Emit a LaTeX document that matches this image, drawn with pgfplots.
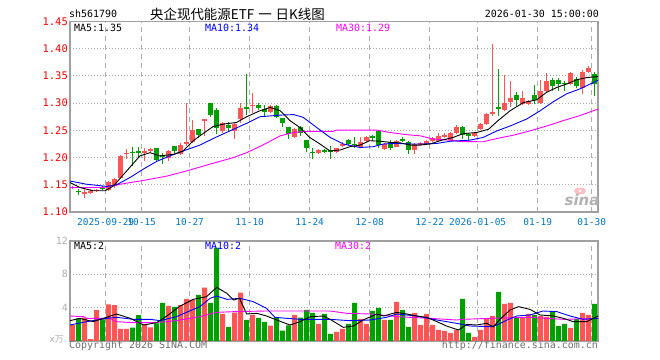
\documentclass[border=0pt]{standalone}
\usepackage{fontspec}
\setmainfont{DejaVu Sans}
\setmonofont{DejaVu Sans Mono}
\newfontfamily\cjk{Noto Sans CJK SC}
\usepackage{pgfplots}
\pgfplotsset{compat=1.18}
\usepackage{pgfplotstable}
\definecolor{upred}{RGB}{255,85,85}
\definecolor{dngreen}{RGB}{0,160,0}
\definecolor{framec}{RGB}{160,160,160}
\definecolor{gridc}{RGB}{175,175,175}
\definecolor{tickblue}{RGB}{0,120,200}
\definecolor{maten}{RGB}{0,0,255}
\definecolor{mathirty}{RGB}{255,0,255}
\definecolor{txtgray}{RGB}{110,110,110}
\newcommand\monoA{\ttfamily\fontsize{10}{12}\selectfont}
\newcommand\monoB{\ttfamily\fontsize{9.5}{11}\selectfont}

\pgfplotstableread{
i O H L C V
0 1.145 1.148 1.143 1.146 1.90
2 1.135 1.143 1.126 1.136 2.80
3 1.137 1.142 1.133 1.138 0.24
4 1.139 1.143 1.137 1.141 3.70
6 1.141 1.157 1.139 1.155 4.40
7 1.147 1.162 1.145 1.160 4.30
8 1.162 1.205 1.160 1.203 1.44
9 1.207 1.215 1.198 1.208 1.44
12 1.208 1.218 1.193 1.212 2.00
13 1.213 1.218 1.211 1.216 1.64
16 1.200 1.213 1.193 1.212 4.20
18 1.207 1.226 1.205 1.223 4.30
19 1.226 1.301 1.222 1.229 5.04
20 1.229 1.269 1.227 1.251 4.92
22 1.267 1.271 1.240 1.270 6.40
25 1.248 1.266 1.246 1.264 3.24
27 1.248 1.264 1.234 1.262 3.40
28 1.271 1.301 1.263 1.291 5.80
30 1.296 1.318 1.282 1.297 3.12
33 1.284 1.297 1.282 1.294 1.84
37 1.238 1.254 1.236 1.252 3.12
41 1.209 1.216 1.207 1.214 2.04
44 1.210 1.218 1.209 1.217 1.08
45 1.223 1.228 1.220 1.225 1.44
48 1.220 1.238 1.218 1.228 2.64
49 1.231 1.240 1.229 1.237 2.04
52 1.216 1.227 1.214 1.225 2.52
54 1.220 1.232 1.219 1.231 4.68
57 1.214 1.227 1.207 1.225 3.36
58 1.224 1.228 1.221 1.226 1.92
59 1.225 1.232 1.224 1.231 3.24
60 1.230 1.238 1.229 1.236 1.92
61 1.231 1.245 1.229 1.240 1.32
62 1.240 1.245 1.236 1.241 1.20
63 1.233 1.247 1.231 1.245 0.96
64 1.246 1.259 1.244 1.257 1.32
67 1.240 1.247 1.238 1.246 0.48
68 1.252 1.263 1.250 1.261 1.32
69 1.262 1.281 1.259 1.280 2.64
70 1.281 1.408 1.277 1.283 3.00
72 1.288 1.352 1.286 1.300 4.44
73 1.302 1.341 1.292 1.309 4.56
75 1.299 1.322 1.297 1.309 2.88
76 1.299 1.306 1.296 1.304 3.24
78 1.301 1.343 1.298 1.322 3.00
79 1.323 1.355 1.321 1.341 2.90
83 1.335 1.358 1.333 1.356 1.56
85 1.327 1.360 1.317 1.358 3.36
86 1.358 1.369 1.356 1.365 3.12
}\uptable

\pgfplotstableread{
i O H L C V
1 1.139 1.142 1.131 1.138 2.70
5 1.145 1.147 1.141 1.143 2.60
10 1.210 1.219 1.185 1.209 1.60
11 1.212 1.220 1.200 1.208 3.10
14 1.217 1.218 1.193 1.195 2.10
15 1.204 1.209 1.188 1.203 4.56
17 1.221 1.222 1.208 1.212 4.08
21 1.252 1.253 1.236 1.242 5.52
23 1.300 1.301 1.274 1.279 4.56
24 1.288 1.291 1.244 1.254 11.20
26 1.259 1.265 1.247 1.254 1.68
29 1.292 1.353 1.279 1.291 2.52
31 1.297 1.300 1.287 1.291 2.76
32 1.289 1.297 1.277 1.284 2.28
34 1.294 1.296 1.272 1.274 2.84
35 1.272 1.273 1.257 1.263 1.24
36 1.256 1.257 1.235 1.244 1.88
38 1.256 1.258 1.240 1.245 2.80
39 1.232 1.233 1.211 1.218 3.72
40 1.210 1.218 1.198 1.209 3.36
42 1.213 1.216 1.208 1.212 3.24
43 1.213 1.222 1.198 1.212 0.84
46 1.233 1.235 1.222 1.225 2.04
47 1.225 1.238 1.217 1.224 4.56
50 1.240 1.241 1.231 1.236 3.60
51 1.248 1.251 1.218 1.224 3.96
53 1.228 1.232 1.214 1.218 2.52
55 1.233 1.237 1.229 1.232 3.72
56 1.228 1.230 1.207 1.214 1.68
65 1.257 1.258 1.234 1.241 5.04
66 1.242 1.246 1.231 1.241 0.96
71 1.292 1.363 1.276 1.290 5.88
74 1.315 1.321 1.295 1.305 2.76
77 1.315 1.333 1.298 1.305 3.12
80 1.342 1.346 1.323 1.331 3.56
81 1.342 1.346 1.323 1.336 1.80
82 1.337 1.340 1.323 1.336 2.04
84 1.344 1.348 1.327 1.332 2.64
87 1.353 1.357 1.314 1.335 4.44
}\dntable

\pgfplotsset{
  panel/.style={
    scale only axis, width=528bp,
    xmin=-0.45, xmax=87.55,
    axis line style={draw=framec, line width=1.2bp},
    tick style={draw=none}, major tick length=0pt,
    xtick={5.5,11.5,19.5,29.5,39.5,49.5,59.5,67.5,77.5,86.5},
    xmajorgrids, ymajorgrids,
    x grid style={draw=gridc, line width=1bp, dash pattern=on 5bp off 4bp},
    y grid style={draw=gridc, line width=0.9bp, dash pattern=on 1bp off 2bp},
    yticklabel style={anchor=east, inner sep=0pt, xshift=-2bp},
  },
  wick/.style={draw=none, mark=none, forget plot,
    error bars/.cd, y dir=both, y explicit, error mark=none,
    error bar style={draw=#1, line width=1bp, solid}},
  body/.style={draw=none, mark=none, forget plot,
    error bars/.cd, y dir=both, y explicit, error mark=none,
    error bar style={draw=#1, line width=5bp, solid}},
}

\begin{document}
\begin{tikzpicture}
\useasboundingbox (0,0) rectangle (660bp,360bp);

% ---------------- price panel ----------------
\begin{axis}[panel, at={(70bp,148bp)}, anchor=south west, height=190.5bp,
  ymin=1.10, ymax=1.45,
  ytick={1.10,1.15,1.20,1.25,1.30,1.35,1.40,1.45},
  yticklabels={1.10,1.15,1.20,1.25,1.30,1.35,1.40,1.45},
  yticklabel style={font=\ttfamily\fontsize{10.5}{12}\selectfont, text=red},
  xticklabels={2025-09-29,10-15,10-27,11-10,11-24,12-08,12-22,2026-01-05,01-19,01-30},
  xticklabel style={font=\monoB, text=tickblue, inner sep=0pt, anchor=north, yshift=-6.5bp},
]
\addplot[wick=upred] table[x=i, y expr={(\thisrow{H}+\thisrow{L})/2}, y error expr={(\thisrow{H}-\thisrow{L})/2}] {\uptable};
\addplot[body=upred] table[x=i, y expr={(\thisrow{O}+\thisrow{C})/2}, y error expr={max(abs(\thisrow{C}-\thisrow{O})/2,0.0009)}] {\uptable};
\addplot[wick=dngreen] table[x=i, y expr={(\thisrow{H}+\thisrow{L})/2}, y error expr={(\thisrow{H}-\thisrow{L})/2}] {\dntable};
\addplot[body=dngreen] table[x=i, y expr={(\thisrow{O}+\thisrow{C})/2}, y error expr={max(abs(\thisrow{C}-\thisrow{O})/2,0.0009)}] {\dntable};

% MA30
\addplot[mathirty, line width=0.9bp] coordinates {(-0.45,1.145) (5.1,1.145) (7.9,1.151) (11.8,1.158) (15.7,1.166) (19,1.1755) (22.9,1.188) (26.8,1.200) (29,1.209) (31.5,1.222) (34.6,1.240) (36.8,1.246) (38.4,1.248) (43.4,1.248) (44,1.2505) (50.7,1.2505) (52.9,1.246) (55.7,1.242) (57.9,1.240) (60.1,1.234) (62.9,1.232) (64.5,1.2296) (68.4,1.229) (70.7,1.235) (73.4,1.241) (76.2,1.249) (79,1.258) (81.8,1.268) (84.5,1.277) (87.55,1.289)};
% MA10
\addplot[maten, line width=0.9bp] coordinates {(-0.45,1.157) (2.3,1.151) (5.7,1.147) (7.3,1.150) (9.5,1.163) (11.8,1.179) (14,1.193) (16.2,1.203) (18.4,1.212) (21.2,1.223) (24,1.238) (26.2,1.249) (29,1.263) (31.2,1.275) (34.6,1.278) (36.8,1.279) (38.4,1.274) (40.7,1.255) (42.9,1.237) (45.1,1.225) (47.9,1.2185) (50.1,1.220) (51.8,1.225) (54,1.226) (56.2,1.225) (58.4,1.225) (60.7,1.226) (62.9,1.230) (66.2,1.232) (68.4,1.237) (70.7,1.249) (72.9,1.258) (75.7,1.271) (77.9,1.286) (80.1,1.3026) (82.3,1.317) (84.5,1.326) (87.55,1.342)};
% MA5
\addplot[black, line width=0.9bp] coordinates {(-0.45,1.154) (1.2,1.145) (3.4,1.139) (5.4,1.139) (6.8,1.148) (9,1.1755) (11.2,1.203) (12.9,1.209) (14.5,1.203) (16.8,1.206) (18.4,1.212) (20.1,1.231) (21.2,1.240) (23.4,1.257) (25.1,1.2615) (27.3,1.2645) (29,1.275) (31.2,1.286) (32.9,1.292) (34.6,1.286) (36.2,1.268) (37.9,1.255) (39.5,1.237) (41.2,1.225) (42.9,1.212) (44.6,1.214) (46.2,1.220) (47.9,1.223) (49.5,1.231) (51.2,1.230) (52.9,1.228) (54.6,1.227) (56.2,1.223) (57.9,1.223) (59.6,1.225) (61.2,1.231) (63.4,1.237) (65.1,1.244) (67.3,1.246) (69.3,1.252) (70.9,1.268) (72.9,1.286) (75.1,1.301) (77.3,1.306) (79,1.320) (80.7,1.329) (82.3,1.335) (84,1.343) (85.7,1.347) (87.55,1.349)};
\end{axis}

% ---------------- volume panel ----------------
\begin{axis}[panel, at={(70bp,19bp)}, anchor=south west, height=100bp,
  ymin=0, ymax=12,
  ytick={4,8,12}, yticklabels={4,8,12},
  yticklabel style={font=\monoA, text=gridc},
  xticklabels={},
]
\addplot[ybar, bar width=5bp, bar shift=0pt, fill=upred, draw=none] table[x=i, y=V] {\uptable};
\addplot[ybar, bar width=5bp, bar shift=0pt, fill=dngreen, draw=none] table[x=i, y=V] {\dntable};
% MA30
\addplot[mathirty, line width=0.9bp] coordinates {(-0.45,3.0) (1.8,2.92) (2.3,2.72) (6.2,2.72) (7.3,2.32) (10.1,2.2) (13.4,2.2) (15.7,2.32) (17.9,2.52) (21.2,2.92) (24,3.44) (26.8,3.52) (32.3,3.6) (42.9,3.6) (45.7,3.32) (49.6,3.24) (54,2.92) (59.6,2.72) (64,2.52) (65.1,2.6) (69.6,2.72) (76.2,2.84) (81.8,2.6) (87.55,2.72)};
% MA10
\addplot[maten, line width=0.9bp] coordinates {(-0.45,1.92) (2.3,2.32) (5.7,2.72) (7.3,2.84) (10.1,2.6) (12.9,2.6) (14.6,2.44) (17.3,2.92) (19.6,3.64) (21.2,4.12) (22.9,5.12) (24,5.4) (25.7,5.0) (27.9,5.12) (30.1,4.72) (32.3,3.92) (33.7,2.84) (35.7,2.72) (37.9,2.6) (40.7,2.6) (42.9,2.6) (46.2,2.44) (49.6,2.52) (52.3,2.84) (54,3.24) (57.3,3.0) (60.7,2.52) (64,2.12) (66.2,1.8) (69.6,1.72) (70.7,1.92) (72.4,2.52) (74,3.0) (76.2,3.12) (78.4,3.6) (80.7,3.52) (82.9,3.0) (85.1,2.6) (87.55,2.72)};
% MA5
\addplot[black, line width=0.9bp] coordinates {(-0.45,2.44) (1.2,2.72) (3.4,2.32) (4.6,2.6) (7.3,3.24) (9.6,2.72) (11.8,1.92) (14,2.2) (15.7,3.0) (17.9,4.2) (20.1,5.0) (22.3,5.32) (24,6.44) (25.7,5.72) (26.8,4.92) (27.8,5.12) (29,3.24) (30.7,3.32) (32.3,3.0) (34,2.52) (36.2,1.92) (37.9,2.32) (39.6,2.92) (41.8,3.0) (42.9,2.6) (44,2.12) (45.1,1.64) (46.8,1.8) (48.4,2.52) (50.7,3.24) (51.8,3.0) (54,3.44) (55.7,3.24) (57.3,3.0) (59,2.84) (60.7,2.32) (62.3,1.8) (64.3,1.32) (65.7,2.0) (67.3,1.92) (69,2.12) (70.1,1.68) (71.2,2.6) (72.9,3.72) (74.3,4.12) (76.2,3.8) (77.9,3.12) (80.1,3.0) (81.8,2.72) (83.4,2.32) (85.7,2.32) (87.55,3.0)};
\end{axis}

% ---------------- texts ----------------
\node[anchor=west, inner sep=0pt, font=\monoA] at (69bp,346bp) {sh561790};
\node[anchor=west, inner sep=0pt, font=\cjk\fontsize{13.5}{15}\selectfont] at (150bp,346bp) {央企现代能源ETF\hspace{4bp}一\hspace{4bp}日K线图};
\node[anchor=east, inner sep=0pt, font=\monoA] at (599bp,346bp) {2026-01-30 15:00:00};

\node[anchor=west, inner sep=0pt, font=\monoA, text=black] at (74bp,332bp) {MA5:1.35};
\node[anchor=west, inner sep=0pt, font=\monoA, text=maten] at (205bp,332bp) {MA10:1.34};
\node[anchor=west, inner sep=0pt, font=\monoA, text=mathirty] at (336bp,332bp) {MA30:1.29};

\node[anchor=west, inner sep=0pt, font=\monoA, text=black] at (74bp,114bp) {MA5:2};
\node[anchor=west, inner sep=0pt, font=\monoA, text=maten] at (205bp,114bp) {MA10:2};
\node[anchor=west, inner sep=0pt, font=\monoA, text=mathirty] at (335bp,114bp) {MA30:2};

\node[anchor=east, inner sep=0pt, font=\fontsize{9}{10}\selectfont, text=gridc] at (64bp,21bp) {x{\cjk 万}};
\node[anchor=west, inner sep=0pt, font=\monoA, text=txtgray] at (69bp,14bp) {Copyright 2026 SINA.COM};
\node[anchor=east, inner sep=0pt, font=\monoA, text=txtgray] at (598bp,14bp) {http://finance.sina.com.cn};

% watermark
\fill[red!25] (580bp,169bp) ellipse (6bp and 3.5bp);
\fill[white] (580bp,169bp) circle (1.6bp);
\node[inner sep=0pt, font=\bfseries\itshape\fontsize{15}{15}\selectfont, text=black!30] at (582bp,160bp) {sina};
\end{tikzpicture}
\end{document}
